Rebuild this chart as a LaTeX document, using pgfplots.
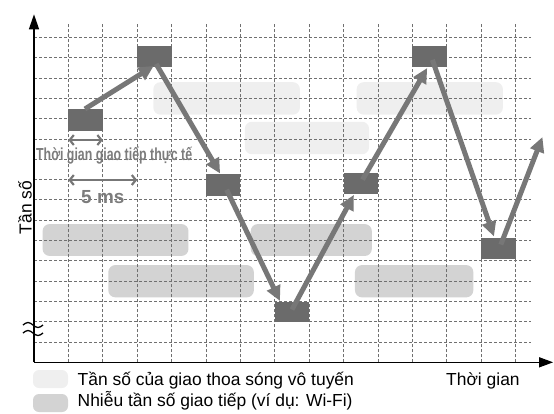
\documentclass[border=0pt]{standalone}
\usepackage{fontspec}
\setmainfont{Liberation Sans}
\usepackage{graphicx}
\usepackage{pgfplots}
\pgfplotsset{compat=1.18}
\usetikzlibrary{arrows.meta}
\definecolor{sq}{HTML}{6B6B6B}
\definecolor{arr}{HTML}{777777}
\definecolor{lightband}{HTML}{EFEFEF}
\definecolor{darkband}{HTML}{D3D3D3}
\definecolor{gridc}{HTML}{707070}
\definecolor{ann}{HTML}{7C7C7C}
\begin{document}
\begin{tikzpicture}[x=1bp,y=1bp]
\path (0,0) rectangle (554,-413);
\begin{axis}[
  at={(34bp,-362.3bp)}, anchor=south west,
  scale only axis, width=497.1bp, height=339bp,
  xmin=0, xmax=14.45, ymin=0, ymax=16.7,
  axis lines=left, set layers, no markers, clip=false,
  xtick={1,...,14}, ytick={1,...,16},
  xticklabels={}, yticklabels={},
  major tick length=0pt, tick style={draw=none},
  grid=major,
  major grid style={draw=gridc, line width=0.9bp, dash pattern=on 3bp off 2bp},
  axis line style={black, line width=1.4bp},
  x axis line style={-{Triangle[length=14bp,width=10bp]}, shorten >=-22bp},
  y axis line style={-{Triangle[length=15bp,width=10bp]}, shorten >=-9bp},
  band/.style={draw=none, rounded corners=7bp, on layer=axis background},
  sqr/.style={draw=none, fill=sq},
  jump/.style={draw=arr, line width=5bp, -{Triangle[length=15bp,width=14bp]}},
  span/.style={draw=arr, line width=2.2bp,
    {Straight Barb[length=4bp,width=10bp]}-{Straight Barb[length=4bp,width=10bp]}},
]
% radio interference (light)
\addplot[band, fill=lightband] coordinates {(5.6,12.2) (7.73,12.2) (7.73,13.8) (3.47,13.8) (3.47,12.2) (5.6,12.2)};
\addplot[band, fill=lightband] coordinates {(7.9,10.25) (9.74,10.25) (9.74,11.85) (6.13,11.85) (6.13,10.25) (7.9,10.25)};
\addplot[band, fill=lightband] coordinates {(11.5,12.2) (13.63,12.2) (13.63,13.8) (9.38,13.8) (9.38,12.2) (11.5,12.2)};
% communication noise (dark)
\addplot[band, fill=darkband] coordinates {(2.4,5.24) (4.49,5.24) (4.49,6.81) (0.25,6.81) (0.25,5.24) (2.4,5.24)};
\addplot[band, fill=darkband] coordinates {(4.3,3.2) (6.39,3.2) (6.39,4.79) (2.16,4.79) (2.16,3.2) (4.3,3.2)};
\addplot[band, fill=darkband] coordinates {(8.0,5.24) (9.82,5.24) (9.82,6.81) (6.3,6.81) (6.3,5.24) (8.0,5.24)};
\addplot[band, fill=darkband] coordinates {(11.0,3.2) (12.77,3.2) (12.77,4.79) (9.33,4.79) (9.33,3.2) (11.0,3.2)};
% hops
\addplot[sqr] coordinates {(1,11.4) (2,11.4) (2,12.48) (1,12.48)};
\addplot[sqr] coordinates {(3,14.56) (4,14.56) (4,15.6) (3,15.6)};
\addplot[sqr] coordinates {(5,8.2) (6,8.2) (6,9.27) (5,9.27)};
\addplot[sqr] coordinates {(7,1.97) (8,1.97) (8,2.98) (7,2.98)};
\addplot[sqr] coordinates {(9,8.28) (10,8.28) (10,9.34) (9,9.34)};
\addplot[sqr] coordinates {(11,14.56) (12,14.56) (12,15.6) (11,15.6)};
\addplot[sqr] coordinates {(13,5.07) (14,5.07) (14,6.14) (13,6.14)};
\addplot[jump] coordinates {(1.48,12.48) (3.48,14.6)};
\addplot[jump] coordinates {(3.55,14.7) (5.41,9.3)};
\addplot[jump] coordinates {(5.6,8.5) (7.15,3.02)};
\addplot[jump] coordinates {(7.5,2.6) (9.3,8.25)};
\addplot[jump] coordinates {(9.55,9.0) (11.43,14.5)};
\addplot[jump] coordinates {(11.58,14.9) (13.37,6.2)};
\addplot[jump] coordinates {(13.57,5.8) (14.78,11.1)};
% durations
\addplot[span] coordinates {(1,10.95) (2,10.95)};
\addplot[span] coordinates {(1,8.98) (3,8.98)};
\node[font=\fontsize{17.5}{20}\selectfont\bfseries, text=ann, inner sep=0pt] at (axis cs:2.33,10.2) {\scalebox{0.71}[1]{Thời gian giao tiếp thực tế}};
\node[font=\fontsize{19}{22}\selectfont\bfseries, text=ann, inner sep=0pt] at (axis cs:2.0,8.13) {5 ms};
\end{axis}
% axis break
\draw[line width=1.3bp] (23,-325) sin (28,-322.5) cos (33,-325) sin (38,-327.5) cos (43,-325);
\draw[line width=1.3bp] (23,-333) sin (28,-330.5) cos (33,-333) sin (38,-335.5) cos (43,-333);
\node[rotate=90, font=\fontsize{17.5}{20}\selectfont, inner sep=0pt] at (25,-207.5) {Tần số};
\node[anchor=base west, font=\fontsize{17.5}{20}\selectfont, inner sep=0pt] at (446,-385) {Thời gian};
% legend
\fill[lightband, rounded corners=6bp] (33,-370) rectangle (68,-388);
\fill[darkband, rounded corners=6bp] (33,-394) rectangle (68,-412);
\node[anchor=base west, font=\fontsize{17.5}{20}\selectfont, inner sep=0pt] at (77.5,-385) {Tần số của giao thoa sóng vô tuyến};
\node[anchor=base west, font=\fontsize{17.5}{20}\selectfont, inner sep=0pt] at (77.5,-406.7) {Nhiễu tần số giao tiếp (ví dụ: Wi-Fi)};
\end{tikzpicture}
\end{document}
